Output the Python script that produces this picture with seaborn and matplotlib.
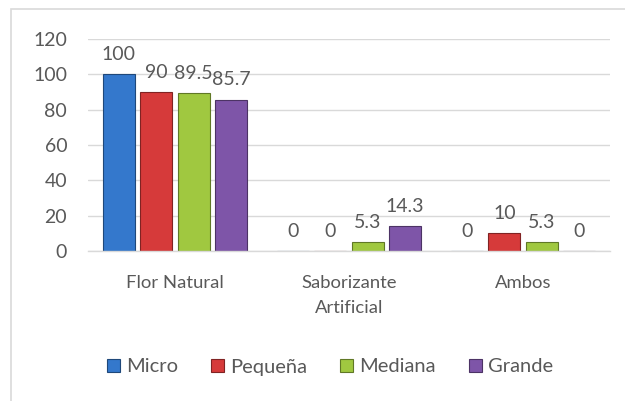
import pandas as pd
import seaborn as sns
import matplotlib.pyplot as plt
from matplotlib.patches import Rectangle
from matplotlib.colors import to_rgb

categories = ['Flor Natural', 'Saborizante\nArtificial', 'Ambos']
sizes = ['Micro', 'Pequeña', 'Mediana', 'Grande']
micro = [100, 0, 0]
pequena = [90, 0, 10]
mediana = [89.5, 5.3, 5.3]
grande = [85.7, 14.3, 0]
colors = ['#3478CC', '#D63A3A', '#A0C840', '#7E55A8']

df = pd.DataFrame({
    'cat': categories * 4,
    'size': [s for s in sizes for _ in categories],
    'val': micro + pequena + mediana + grande,
})

sns.set_style('white')
plt.rcParams['font.family'] = ['Lato', 'DejaVu Sans']

fig = plt.figure(figsize=(6.25, 4.01), dpi=100)
ax = fig.add_axes([88 / 625, 1 - 251 / 401, (610 - 88) / 625, (251 - 39) / 401])

sns.barplot(data=df, x='cat', y='val', hue='size', palette=colors, saturation=1, ax=ax,
            width=0.86, gap=0.15, linewidth=0.8, legend=True)

txt = '#595959'
for cont, c in zip(ax.containers, colors):
    dark = tuple(v * 0.6 for v in to_rgb(c))
    for p in cont.patches:
        p.set_edgecolor(dark)
    ax.bar_label(cont, labels=[f'{v:g}' for v in cont.datavalues],
                 padding=8, fontsize=14, color=txt)

ax.set_ylim(0, 120)
ax.set_yticks(range(0, 121, 20))
ax.yaxis.grid(True, color='#D9D9D9', linewidth=1)
ax.set_axisbelow(True)
for s in ['left', 'top', 'right']:
    ax.spines[s].set_visible(False)
ax.spines['bottom'].set_color('#D9D9D9')
ax.spines['bottom'].set_linewidth(1)
ax.tick_params(axis='y', length=0, labelsize=14, labelcolor=txt, pad=15)
ax.tick_params(axis='x', length=0, labelsize=13.3, labelcolor=txt, pad=17)
for t in ax.get_xticklabels():
    t.set_linespacing(1.7)
ax.set_xlabel('')
ax.set_ylabel('')

h, l = ax.get_legend_handles_labels()
for hh, c in zip(h, colors):
    hh.set_edgecolor(tuple(v * 0.6 for v in to_rgb(c)))
ax.legend(h, l, loc='center', bbox_to_anchor=(330 / 625, 1 - 367 / 401), bbox_transform=fig.transFigure,
          ncol=4, frameon=False, fontsize=14.5, labelcolor=txt, handlelength=0.65, handleheight=0.65,
          handletextpad=0.3, columnspacing=1.65, borderpad=0)

fig.patches.append(Rectangle((11 / 625, -0.1), 1.2, 1 - 9 / 401 + 0.1, transform=fig.transFigure,
                             fill=False, edgecolor='#D9D9D9', linewidth=1.2, clip_on=False))

fig.savefig('out.png', dpi=100)
